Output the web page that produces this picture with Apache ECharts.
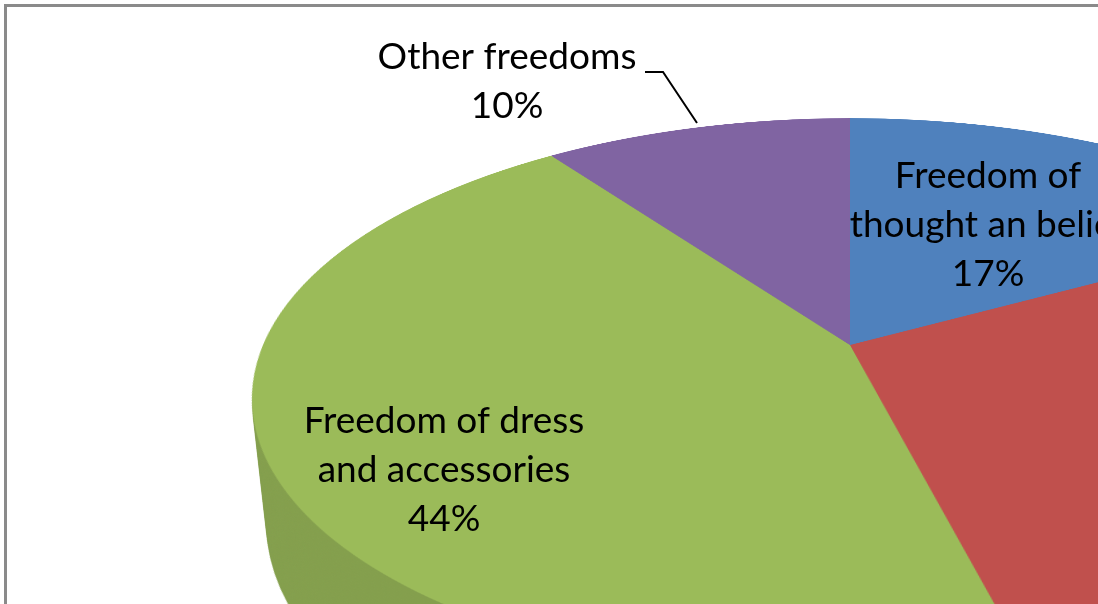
<!DOCTYPE html>
<html>
<head>
<meta charset="utf-8">
<title>Freedoms</title>
<script src="https://cdn.jsdelivr.net/npm/echarts@6/dist/echarts.min.js"></script>
<style>
  html, body { margin: 0; padding: 0; background: #ffffff; width: 1098px; height: 604px; overflow: hidden; }
  #stage {
    position: absolute; left: 0; top: 0; width: 1098px; height: 604px; overflow: hidden;
    perspective: 2733px; perspective-origin: 850px 345px;
  }
  .disc { position: absolute; transform-origin: 50% 50%; display: block; }
  #overlay { position: absolute; left: 0; top: 0; width: 1098px; height: 604px; z-index: 1000; }
  #sideSrc { position: absolute; left: -6000px; top: 0; }
</style>
</head>
<body>
<div id="stage"></div>
<div id="overlay"></div>
<script>
// ---- data ----
const categories = ['Freedom of thought an belief', 'Freedom of expression', 'Freedom of dress and accessories', 'Other freedoms'];
const shares = [17, 29, 44, 10];
const labelLines = [
  ['Freedom of', 'thought an belief'],
  ['Freedom of', 'expression'],
  ['Freedom of dress', 'and accessories'],
  ['Other freedoms']
];

// ---- styling ----
const topColors  = ['#4f81bd', '#c0504d', '#9bbb59', '#8064a2'];
const sideColors = ['#3f6a9c', '#9c3f3c', '#849f4d', '#66508a'];

// ---- 3D geometry of the tilted disc ----
const R = 587;            // disc radius (px)
const TILT = 62.6;        // rotation about the horizontal axis (deg)
const APEX = [850, 345];  // screen position of the pie centre
const DEPTH = 143;        // thickness of the pie
const LAYERS = 48;        // slices used to build the side wall
const S = 2 * R + 6;      // size of each disc element

function pieOption(colors) {
  return {
    animation: false,
    series: [{
      type: 'pie',
      center: ['50%', '50%'],
      radius: R,
      startAngle: 90,
      clockwise: true,
      silent: true,
      label: { show: false },
      labelLine: { show: false },
      emphasis: { disabled: true },
      itemStyle: { borderWidth: 0 },
      data: categories.map((name, i) => ({ name, value: shares[i], itemStyle: { color: colors[i] } }))
    }]
  };
}

function place(el, depth) {
  el.style.left = (APEX[0] - S / 2) + 'px';
  el.style.top = (APEX[1] - S / 2) + 'px';
  el.style.width = S + 'px';
  el.style.height = S + 'px';
  el.style.transform = 'rotateX(' + TILT + 'deg) translateZ(' + (-depth) + 'px)';
}

const stage = document.getElementById('stage');

// side wall: the darker pie rendered once, then stacked along the disc normal
const sideSrc = document.createElement('div');
sideSrc.id = 'sideSrc';
sideSrc.style.width = S + 'px';
sideSrc.style.height = S + 'px';
document.body.appendChild(sideSrc);
const sideChart = echarts.init(sideSrc, null, { renderer: 'canvas', devicePixelRatio: 1 });
sideChart.setOption(pieOption(sideColors));
const sideUrl = sideChart.getDataURL({ type: 'png', pixelRatio: 1, backgroundColor: 'rgba(0,0,0,0)' });
sideChart.dispose();
sideSrc.remove();

for (let i = LAYERS; i >= 1; i--) {
  const img = document.createElement('img');
  img.className = 'disc';
  img.src = sideUrl;
  place(img, DEPTH * i / LAYERS);
  stage.appendChild(img);
}

// top face
const topEl = document.createElement('div');
topEl.className = 'disc';
place(topEl, 0);
stage.appendChild(topEl);
const topChart = echarts.init(topEl, null, { renderer: 'canvas', devicePixelRatio: 2 });
topChart.setOption(pieOption(topColors));

// ---- labels, leader line and chart-area frame ----
const total = shares.reduce((a, b) => a + b, 0);
const labelCenters = [[988, 225], [1260, 470], [444, 470], [507, 82]];
const FONT = '37px Lato';

const texts = categories.map((name, i) => ({
  type: 'text',
  silent: true,
  x: labelCenters[i][0],
  y: labelCenters[i][1],
  style: {
    text: labelLines[i].concat([Math.round(shares[i] / total * 100) + '%']).join('\n'),
    font: FONT,
    fill: '#000000',
    align: 'center',
    verticalAlign: 'middle',
    lineHeight: 49
  }
}));

const overlay = echarts.init(document.getElementById('overlay'), null, { renderer: 'canvas' });
overlay.setOption({
  animation: false,
  graphic: [
    {
      type: 'rect', silent: true,
      shape: { x: 5.5, y: 5.5, width: 2000, height: 2000 },
      style: { fill: 'none', stroke: '#8a8a8a', lineWidth: 3 }
    },
    {
      type: 'polyline', silent: true,
      shape: { points: [[645, 72], [663, 72], [697, 123]] },
      style: { stroke: '#000000', lineWidth: 2, fill: 'none' }
    }
  ].concat(texts)
});
</script>
</body>
</html>
